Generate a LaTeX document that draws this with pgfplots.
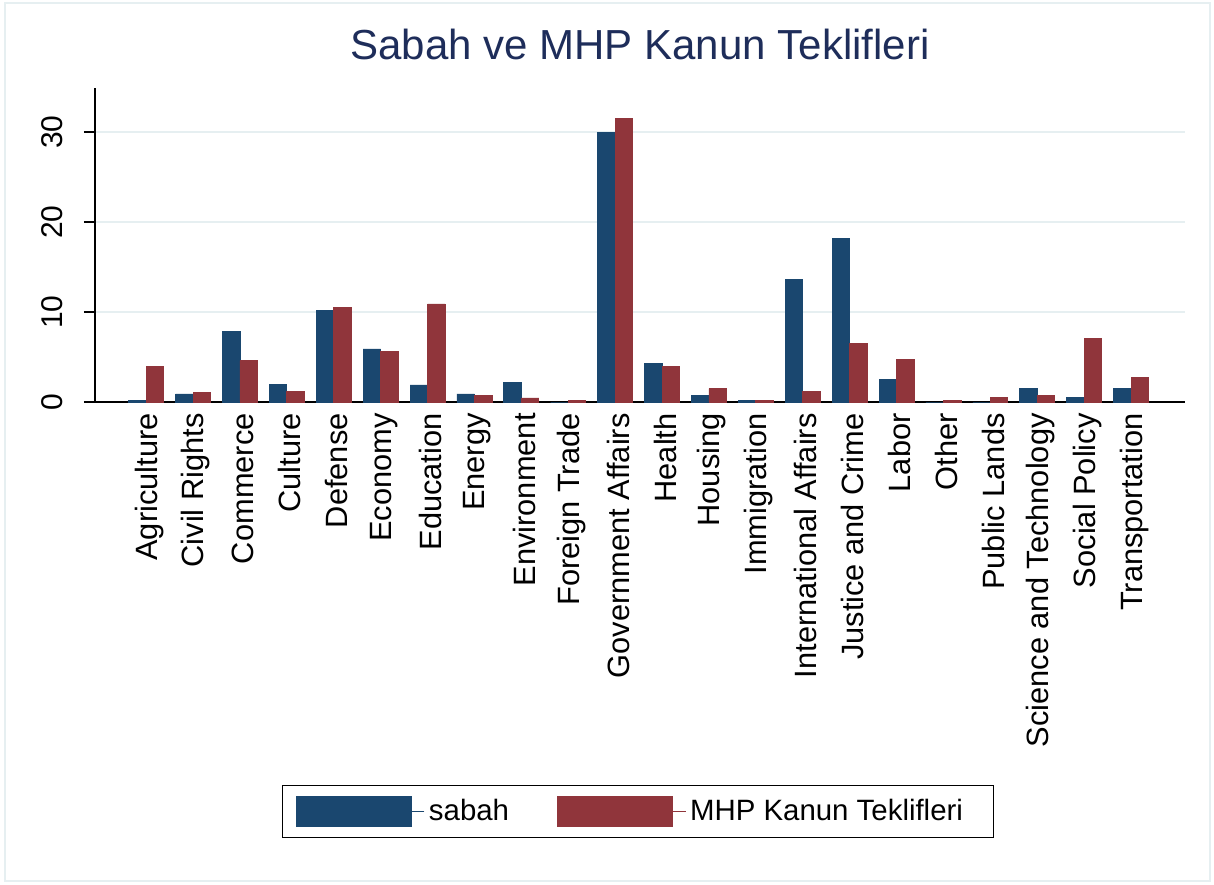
\documentclass[border=0pt]{standalone}
\usepackage{pgfplots}
\pgfplotsset{compat=1.18}
\usepackage{fontspec}
\setmainfont{Liberation Sans}
\definecolor{snavy}{RGB}{26,71,111}
\definecolor{smaroon}{RGB}{144,53,59}
\definecolor{sgrid}{RGB}{230,239,241}
\definecolor{stitle}{RGB}{30,45,90}
\begin{document}
\begin{tikzpicture}
\useasboundingbox (0,0) rectangle (607pt,442pt);
\draw[sgrid, line width=1pt] (2.5pt,1.5pt) rectangle (605pt,440.5pt);
\begin{axis}[
  at={(47.5pt,241pt)}, anchor=south west,
  scale only axis,
  width=545pt, height=157pt,
  ybar=0pt, bar width=8.75pt,
  xmin=-1.09, xmax=22.15,
  ymin=0, ymax=34.9,
  axis x line=bottom, axis y line=left,
  axis line style={-, line width=0.6pt, black},
  xtick={0,...,21},
  xticklabels={Agriculture,Civil Rights,Commerce,Culture,Defense,Economy,Education,Energy,Environment,Foreign Trade,Government Affairs,Health,Housing,Immigration,International Affairs,Justice and Crime,Labor,Other,Public Lands,Science and Technology,Social Policy,Transportation},
  xticklabel style={rotate=90, anchor=east, font=\fontsize{15.4}{18}\selectfont, inner sep=0pt, yshift=-1.5pt},
  xticklabel shift=0pt,
  major x tick style={draw=none},
  ytick={0,10,20,30},
  yticklabel style={rotate=90, anchor=south, font=\fontsize{15}{18}\selectfont, inner sep=0pt},
  yticklabel shift=10.5pt,
  /pgf/number format/assume math mode=true,
  major tick length=5.5pt,
  major y tick style={line width=0.6pt, black},
  tick align=outside,
  ymajorgrids,
  major grid style={sgrid, line width=1.2pt},
  title={Sabah ve MHP Kanun Teklifleri},
  title style={at={(0.5,1.099)}, anchor=center, font=\fontsize{21}{25}\selectfont, text=stitle},
  legend columns=2,
  legend style={at={(0.4986,-1.304)}, anchor=center, draw=black, line width=0.5pt,
    font=\fontsize{14.7}{17}\selectfont, inner xsep=6.5pt, inner ysep=4.8pt,
    /tikz/every even column/.append style={column sep=22pt}},
  legend image code/.code={\fill[#1] (0pt,-7.5pt) rectangle (57.5pt,7.5pt); \path (0pt,0pt) -- (64pt,0pt);},
]
\addplot[fill=snavy, draw=snavy] coordinates {
(0,0.2) (1,0.9) (2,7.8) (3,2.0) (4,10.2) (5,5.9) (6,1.9) (7,0.9) (8,2.2) (9,0) (10,30.0)
(11,4.3) (12,0.75) (13,0.2) (14,13.6) (15,18.2) (16,2.5) (17,0) (18,0) (19,1.5) (20,0.5) (21,1.5)};
\addplot[fill=smaroon, draw=smaroon] coordinates {
(0,4.0) (1,1.05) (2,4.6) (3,1.2) (4,10.5) (5,5.6) (6,10.9) (7,0.75) (8,0.45) (9,0.2) (10,31.5)
(11,4.0) (12,1.5) (13,0.2) (14,1.2) (15,6.5) (16,4.7) (17,0.2) (18,0.5) (19,0.75) (20,7.1) (21,2.7)};
\legend{sabah, MHP Kanun Teklifleri\hspace*{7pt}}
\end{axis}
\end{tikzpicture}
\end{document}
